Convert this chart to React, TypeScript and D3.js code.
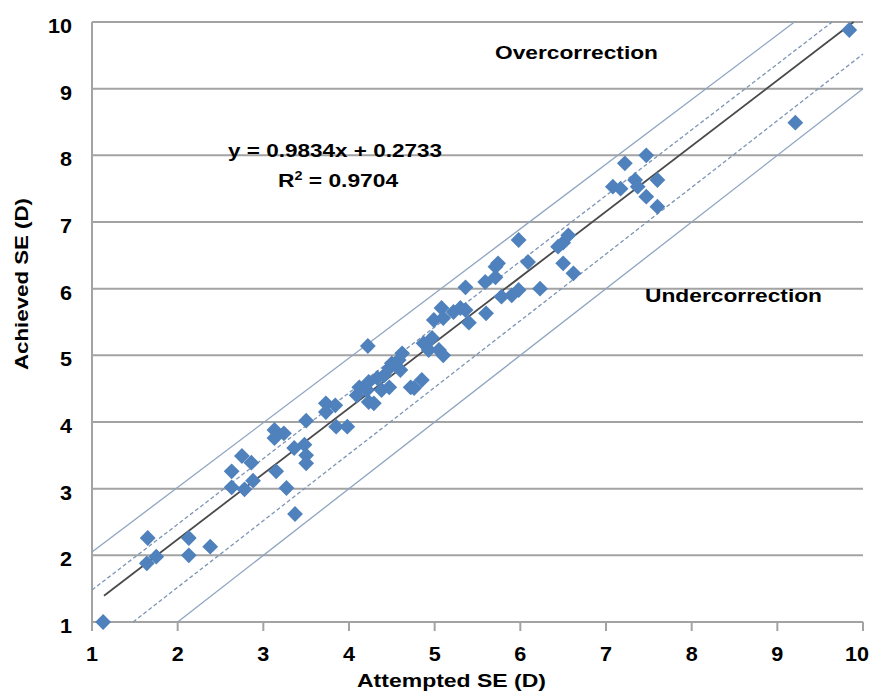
import React from 'react';
import * as d3 from 'd3';

// values
const attempted = [
  1.13, 1.65, 1.64, 1.75, 2.13, 2.13, 2.38, 2.63, 2.63, 2.75, 2.78, 2.86, 2.88,
  3.13, 3.13, 3.24, 3.15, 3.27, 3.37, 3.36, 3.48, 3.5, 3.5, 3.5, 3.73, 3.73,
  3.84, 3.85, 3.98, 4.09, 4.21, 4.23, 4.22, 4.12, 4.23, 4.33, 4.41, 4.29, 4.38,
  4.47, 4.47, 4.5, 4.58, 4.62, 4.6, 4.72, 4.76, 4.85, 4.87, 4.93, 4.97, 4.99,
  5.05, 5.1, 5.08, 5.1, 5.22, 5.3, 5.36, 5.4, 5.36, 5.6, 5.59, 5.71, 5.71, 5.74,
  5.78, 5.9, 5.98, 5.98, 6.09, 6.23, 6.44, 6.5, 6.56, 6.5, 6.62, 7.08, 7.17,
  7.22, 7.34, 7.37, 7.47, 7.47, 7.6, 7.6, 9.21, 9.84,
];
const achieved = [
  1.0, 2.26, 1.88, 1.98, 2.26, 2.0, 2.13, 3.26, 3.02, 3.49, 2.99, 3.39, 3.12,
  3.88, 3.76, 3.83, 3.26, 3.01, 2.62, 3.61, 3.66, 3.5, 3.38, 4.02, 4.28, 4.15,
  4.25, 3.93, 3.93, 4.4, 4.48, 4.3, 5.14, 4.52, 4.6, 4.66, 4.7, 4.28, 4.48,
  4.52, 4.81, 4.88, 4.93, 5.03, 4.78, 4.52, 4.51, 4.63, 5.18, 5.08, 5.26, 5.53,
  5.08, 5.0, 5.71, 5.56, 5.65, 5.71, 5.68, 5.49, 6.02, 5.63, 6.1, 6.17, 6.33, 6.38,
  5.88, 5.9, 5.98, 6.73, 6.4, 6.0, 6.63, 6.69, 6.8, 6.38, 6.23, 7.53, 7.5,
  7.88, 7.63, 7.53, 8.0, 7.38, 7.63, 7.23, 8.49, 9.88,
];

const xTicks = [1, 2, 3, 4, 5, 6, 7, 8, 9, 10];
const yTicks = [1, 2, 3, 4, 5, 6, 7, 8, 9, 10];

// trend line and the +-0.5 D / +-1 D bands, as end points
const trendLine = [[1.14, 1.394], [9.89, 10]];
const upperDashed = [[1, 1.48], [9.64, 10]];
const lowerDashed = [[1.48, 1], [10, 9.52]];
const upperSolid = [[1, 2.05], [9.2, 10]];
const lowerSolid = [[2, 1], [10, 9]];

const W = 879;
const H = 691;
const left = 92, right = 863, top = 22, bottom = 622;

export default function App() {
  const x = d3.scaleLinear().domain([1, 10]).range([left, right]);
  const y = d3.scaleLinear().domain([1, 10]).range([bottom, top]);
  const line = d3.line<number[]>().x(d => x(d[0])).y(d => y(d[1]));
  const diamond = d3.symbol(d3.symbolSquare, 125)();
  const font = '"Liberation Sans", Arial, sans-serif';

  return (
    <svg width={W} height={H} style={{ position: 'absolute', left: 0, top: 0, background: '#fff' }}
      fontFamily={font} fontWeight="bold">
      {/* gridlines */}
      {yTicks.map(t => (
        <line key={'g' + t} x1={left} x2={right} y1={y(t)} y2={y(t)} stroke="#a3a3a3" strokeWidth={2} />
      ))}
      <line x1={left} x2={left} y1={top} y2={bottom} stroke="#a3a3a3" strokeWidth={2} />
      {xTicks.map(t => (
        <line key={'t' + t} x1={x(t)} x2={x(t)} y1={bottom} y2={bottom + 9} stroke="#a3a3a3" strokeWidth={2} />
      ))}

      {/* tolerance bands */}
      <path d={line(upperSolid)!} stroke="#8fa5c0" strokeWidth={1.3} fill="none" />
      <path d={line(lowerSolid)!} stroke="#8fa5c0" strokeWidth={1.3} fill="none" />
      <path d={line(upperDashed)!} stroke="#7d95b4" strokeWidth={1.3} strokeDasharray="4,2.5" fill="none" />
      <path d={line(lowerDashed)!} stroke="#7d95b4" strokeWidth={1.3} strokeDasharray="4,2.5" fill="none" />
      <path d={line(trendLine)!} stroke="#4a4a4a" strokeWidth={1.8} fill="none" />

      {/* points */}
      {attempted.map((a, i) => (
        <path key={'p' + i} d={diamond!} fill="#4f81bd"
          transform={`translate(${x(a)},${y(achieved[i])}) rotate(45)`} />
      ))}

      {/* tick labels */}
      {yTicks.map(t => (
        <text key={'yl' + t} transform={`translate(72,${y(t) + 11}) scale(1.08,1)`} textAnchor="end" fontSize={20}>{t}</text>
      ))}
      {xTicks.map(t => (
        <text key={'xl' + t} transform={`translate(${t === 10 ? x(t) - 6 : x(t)},661) scale(1.08,1)`}
          textAnchor="middle" fontSize={20}>{t}</text>
      ))}

      {/* axis titles */}
      <text x={357} y={687} fontSize={19} textLength={189} lengthAdjust="spacingAndGlyphs">Attempted SE (D)</text>
      <text transform="translate(28,284) rotate(-90)" textAnchor="middle" fontSize={19}
        textLength={172} lengthAdjust="spacingAndGlyphs">Achieved SE (D)</text>

      {/* annotations */}
      <text x={495} y={59} fontSize={19} textLength={163} lengthAdjust="spacingAndGlyphs">Overcorrection</text>
      <text x={645} y={302} fontSize={19} textLength={177} lengthAdjust="spacingAndGlyphs">Undercorrection</text>
      <text x={228} y={157} fontSize={19} textLength={214} lengthAdjust="spacingAndGlyphs">y = 0.9834x + 0.2733</text>
      <text transform="translate(278,187) scale(1.2,1)" fontSize={19}>
        R<tspan fontSize={12} dy={-7}>2</tspan><tspan dy={7}> = 0.9704</tspan>
      </text>
    </svg>
  );
}
